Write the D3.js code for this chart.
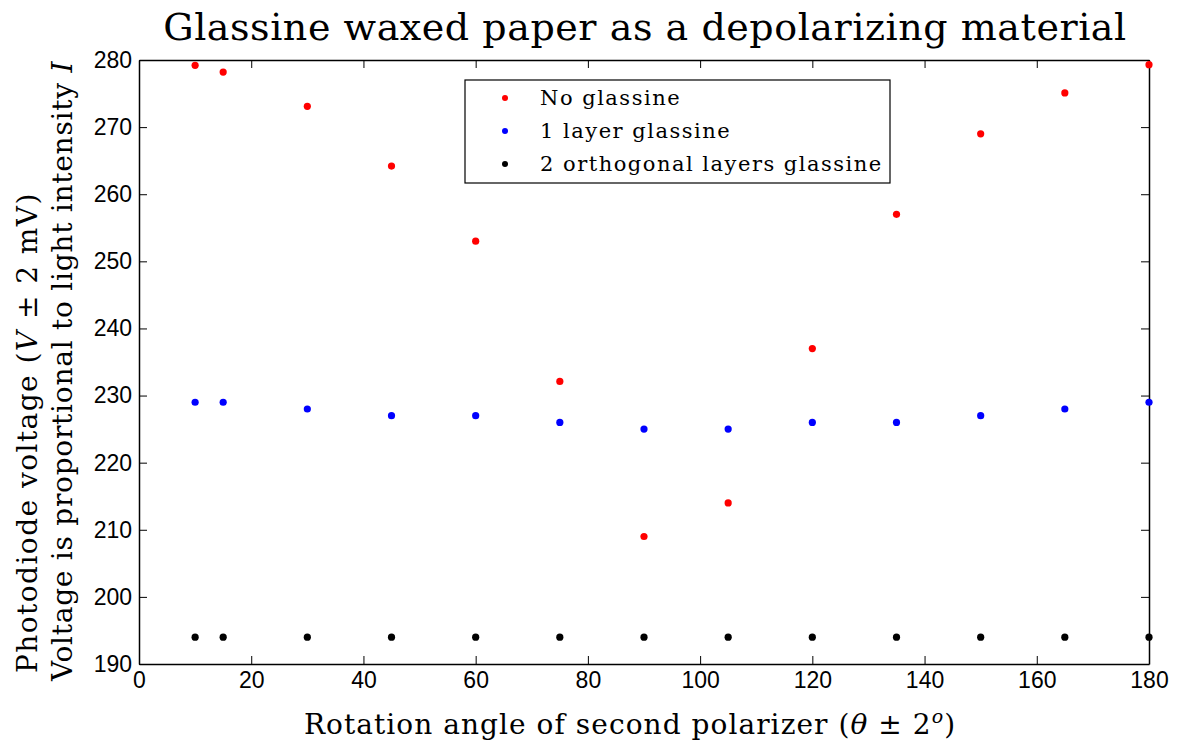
<!DOCTYPE html>
<html><head><meta charset="utf-8">
<script src="https://cdn.jsdelivr.net/npm/d3@7"></script>
<style>body{margin:0;background:#fff}</style>
</head><body>
<svg id="c" width="1181" height="742"></svg>
<script>
const angles = [10, 15, 30, 45, 60, 75, 90, 105, 120, 135, 150, 165, 180];
const noGlassine = [279.2, 278.2, 273.1, 264.2, 253, 232.1, 209, 214, 237, 257, 269, 275.1, 279.3];
const oneLayer = [229, 229, 228, 227, 227, 226, 225, 225, 226, 226, 227, 228, 229];
const twoLayers = [194, 194, 194, 194, 194, 194, 194, 194, 194, 194, 194, 194, 194];
const seriesNames = ["No glassine", "1 layer glassine", "2 orthogonal layers glassine"];
const seriesColors = ["#ff0000", "#0000ff", "#000000"];
const xTicks = [0, 20, 40, 60, 80, 100, 120, 140, 160, 180];
const yTicks = [190, 200, 210, 220, 230, 240, 250, 260, 270, 280];

const svg = d3.select("#c");
const L = 139, R = 1149, T = 60, B = 664;
const x = d3.scaleLinear().domain([0, 180]).range([L, R]);
const y = d3.scaleLinear().domain([190, 280]).range([B, T]);
const serif = "'DejaVu Serif', serif";
const sans = "'Liberation Sans', Arial, sans-serif";

// axes
const tl = 8;
const gB = svg.append("g").attr("transform", `translate(0,${B})`)
  .call(d3.axisBottom(x).tickValues(xTicks).tickSizeInner(-tl).tickSizeOuter(0).tickPadding(8));
const gT = svg.append("g").attr("transform", `translate(0,${T})`)
  .call(d3.axisTop(x).tickValues(xTicks).tickSizeInner(-tl).tickSizeOuter(0).tickFormat(""));
const gL = svg.append("g").attr("transform", `translate(${L},0)`)
  .call(d3.axisLeft(y).tickValues(yTicks).tickSizeInner(-tl).tickSizeOuter(0).tickPadding(7));
const gR = svg.append("g").attr("transform", `translate(${R},0)`)
  .call(d3.axisRight(y).tickValues(yTicks).tickSizeInner(-tl).tickSizeOuter(0).tickFormat(""));
[gB, gT, gL, gR].forEach(g => {
  g.attr("font-family", sans).attr("font-size", 23);
  g.selectAll("path").attr("stroke", "#000").attr("stroke-width", 1.5);
  g.selectAll("line").attr("stroke", "#000").attr("stroke-width", 1);
  g.selectAll("text").attr("font-family", sans).attr("font-size", 23).attr("fill", "#000");
});

// points
const all = [noGlassine, oneLayer, twoLayers];
all.forEach((vals, i) => {
  svg.append("g").selectAll("circle").data(angles.map((a, j) => [a, vals[j]]))
    .join("circle").attr("cx", d => x(d[0])).attr("cy", d => y(d[1]))
    .attr("r", 3.6).attr("fill", seriesColors[i]);
});

// title
svg.append("text").attr("x", 645).attr("y", 40).attr("text-anchor", "middle")
  .attr("font-family", serif).attr("font-size", 38).attr("letter-spacing", 0.55)
  .text("Glassine waxed paper as a depolarizing material");

// x label
const xl = svg.append("text").attr("x", 630).attr("y", 734).attr("text-anchor", "middle")
  .attr("font-family", serif).attr("font-size", 28).attr("letter-spacing", 1.05);
xl.append("tspan").text("Rotation angle of second polarizer (");
xl.append("tspan").attr("font-style", "italic").text("θ");
xl.append("tspan").text(" ± 2");
xl.append("tspan").attr("font-style", "italic").attr("font-size", 19).attr("dy", -11).text("o");
xl.append("tspan").attr("dy", 11).text(")");

// y labels
const yl1 = svg.append("text").attr("transform", "translate(37,673) rotate(-90)").attr("text-anchor", "start")
  .attr("font-family", serif).attr("font-size", 28).attr("letter-spacing", 1.45);
yl1.append("tspan").text("Photodiode voltage (");
yl1.append("tspan").attr("font-style", "italic").text("V");
yl1.append("tspan").text(" ± 2 mV)");
const yl2 = svg.append("text").attr("transform", "translate(72,681) rotate(-90)").attr("text-anchor", "start")
  .attr("font-family", serif).attr("font-size", 28).attr("letter-spacing", 0.75);
yl2.append("tspan").text("Voltage is proportional to light intensity ");
yl2.append("tspan").attr("font-style", "italic").text("I");

// legend
const lg = svg.append("g");
lg.append("rect").attr("x", 465).attr("y", 80).attr("width", 425).attr("height", 103)
  .attr("fill", "#fff").attr("stroke", "#000").attr("stroke-width", 1.2);
seriesNames.forEach((n, i) => {
  const cy = 98 + i * 33;
  lg.append("circle").attr("cx", 505).attr("cy", cy).attr("r", 3).attr("fill", seriesColors[i]);
  lg.append("text").attr("x", 540).attr("y", cy + 7).attr("font-family", serif)
    .attr("font-size", 21).attr("letter-spacing", 1.5).text(n);
});
</script>
</body></html>
